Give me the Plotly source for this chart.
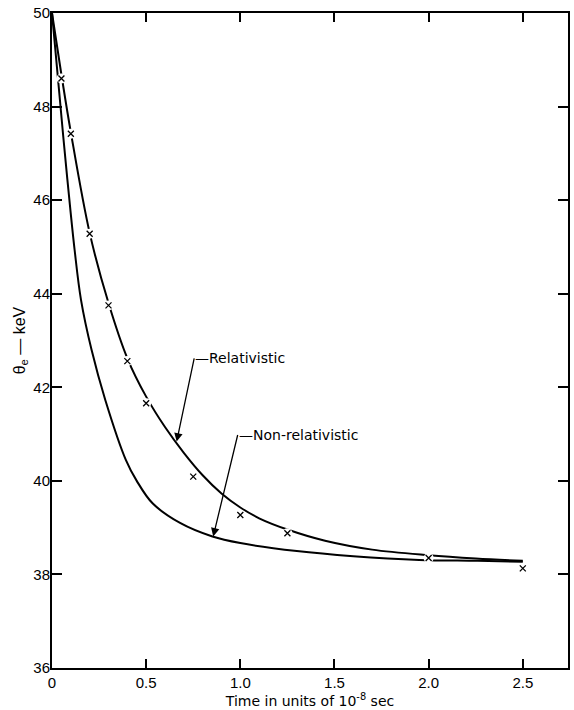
import plotly.graph_objects as go

# Measured points (x marks)
pts_t = [0.05, 0.1, 0.2, 0.3, 0.4, 0.5, 0.75, 1.0, 1.25, 2.0, 2.5]
pts_theta = [48.6, 47.42, 45.28, 43.75, 42.56, 41.66, 40.09, 39.27, 38.88, 38.35, 38.13]

# Relativistic curve
rel_t = [0, 0.05, 0.1, 0.2, 0.3, 0.4, 0.5, 0.6, 0.7, 0.8, 0.9, 1.0, 1.1, 1.25, 1.45, 1.7, 2.0, 2.25, 2.5]
rel_theta = [50, 48.68, 47.45, 45.3, 43.8, 42.62, 41.8, 41.15, 40.6, 40.12, 39.73, 39.43, 39.2, 38.96, 38.72, 38.53, 38.41, 38.34, 38.29]

# Non-relativistic curve
nonrel_t = [0, 0.06, 0.09, 0.12, 0.154, 0.21, 0.283, 0.392, 0.45, 0.534, 0.68, 0.852, 1.0, 1.3, 1.6, 1.95, 2.26, 2.5]
nonrel_theta = [50, 47.35, 46.1, 44.94, 43.87, 42.8, 41.73, 40.45, 40.0, 39.52, 39.1, 38.81, 38.67, 38.5, 38.39, 38.31, 38.29, 38.27]

x_ticks = [0, 0.5, 1.0, 1.5, 2.0, 2.5]
x_tick_labels = ["0", "0.5", "1.0", "1.5", "2.0", "2.5"]
y_ticks = [36, 38, 40, 42, 44, 46, 48, 50]

fig = go.Figure()
fig.add_trace(go.Scatter(x=rel_t, y=rel_theta, mode="lines",
                         line=dict(color="black", width=2, shape="spline", smoothing=1.0),
                         showlegend=False, hoverinfo="skip"))
fig.add_trace(go.Scatter(x=nonrel_t, y=nonrel_theta, mode="lines",
                         line=dict(color="black", width=2, shape="spline", smoothing=1.0),
                         showlegend=False, hoverinfo="skip"))
# white gaps around marks
fig.add_trace(go.Scatter(x=pts_t, y=pts_theta, mode="markers",
                         marker=dict(symbol="circle", size=10, color="white", line=dict(width=0)),
                         showlegend=False, hoverinfo="skip"))
fig.add_trace(go.Scatter(x=pts_t, y=pts_theta, mode="markers",
                         marker=dict(symbol="x-thin-open", size=6, color="black",
                                     line=dict(color="black", width=1.3)),
                         showlegend=False))

font_main = "Liberation Sans, Arial, sans-serif"
font_lbl = "DejaVu Sans, sans-serif"

# Relativistic label + arrow (text box left edge at arrow tail)
fig.add_annotation(x=0.662, y=40.84, ax=0.755, ay=42.62, xref="x", yref="y",
                   axref="x", ayref="y", text="—Relativistic", showarrow=True,
                   xanchor="left", yanchor="middle", borderpad=0,
                   arrowhead=2, arrowsize=1.3, arrowwidth=1.3, arrowcolor="black",
                   font=dict(family=font_lbl, size=14, color="black"))

# Non-relativistic label + arrow
fig.add_annotation(x=0.856, y=38.81, ax=0.986, ay=40.98, xref="x", yref="y",
                   axref="x", ayref="y", text="—Non-relativistic", showarrow=True,
                   xanchor="left", yanchor="middle", borderpad=0,
                   arrowhead=2, arrowsize=1.3, arrowwidth=1.3, arrowcolor="black",
                   font=dict(family=font_lbl, size=14, color="black"))

fig.update_layout(
    width=574, height=710,
    margin=dict(l=52, r=4, t=13, b=42),
    paper_bgcolor="white", plot_bgcolor="white",
    font=dict(family=font_main, color="black"),
    xaxis=dict(range=[0, 2.74], tickvals=x_ticks, ticktext=x_tick_labels,
               ticks="inside", ticklen=9, tickwidth=1.5, tickcolor="black",
               showline=True, linecolor="black", linewidth=2, mirror="ticks",
               showgrid=False, zeroline=False,
               tickfont=dict(size=15, family=font_main, color="black"),
               title=dict(text="Time in units of 10<sup>-8</sup> sec",
                          font=dict(size=14, family=font_lbl, color="black"), standoff=2)),
    yaxis=dict(range=[36, 50], tickvals=y_ticks,
               ticks="inside", ticklen=10, tickwidth=1.5, tickcolor="black",
               ticklabelstandoff=-3,
               showline=True, linecolor="black", linewidth=2, mirror="ticks",
               showgrid=False, zeroline=False,
               tickfont=dict(size=15, family=font_main, color="black"),
               title=dict(text="θ<sub>e</sub> — keV",
                          font=dict(size=16, family=font_main, color="black"), standoff=4)),
)

fig.write_html("out.html")
